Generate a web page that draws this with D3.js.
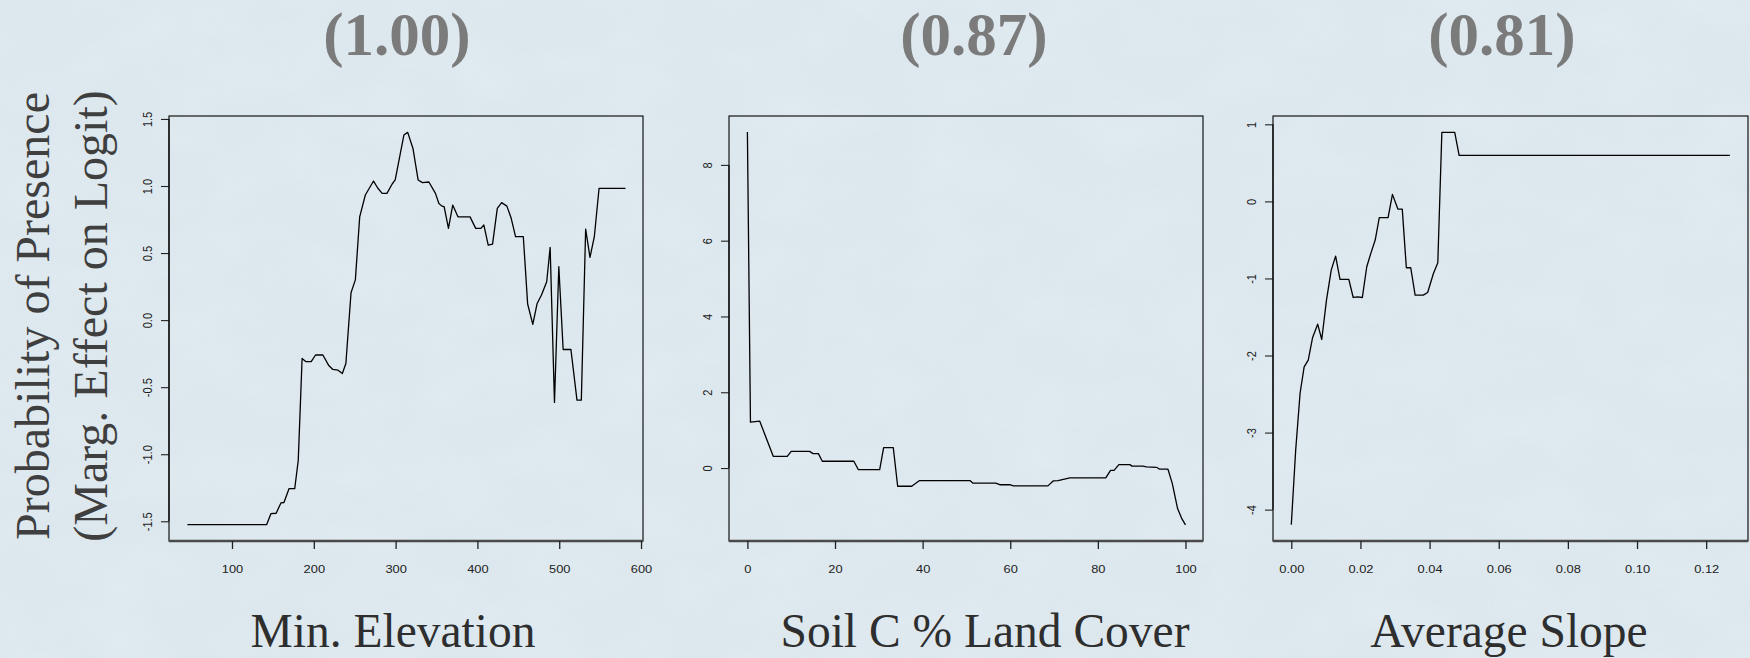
<!DOCTYPE html>
<html>
<head>
<meta charset="utf-8">
<script src="https://cdn.jsdelivr.net/npm/d3@7"></script>
<style>
  html, body { margin: 0; padding: 0; background: #dde8ee; }
  svg { display: block; }
</style>
</head>
<body>
<svg id="chart" width="1750" height="658"></svg>
<script>
// ---------- data ----------
const panelTitles = ["(1.00)", "(0.87)", "(0.81)"];
const panelXLabels = ["Min. Elevation", "Soil C % Land Cover", "Average Slope"];
const yLabelLines = ["Probability of Presence", "(Marg. Effect on Logit)"];

// Panel 1: Min. Elevation
const elevX = [45.5,142.3,147.6,154,159.8,163.5,169.8,176.7,181,185.7,190.5,196.8,202.1,211.1,218,223.3,229.6,234.9,239.2,245.5,250.8,256.1,263,273,278.3,283.6,289.4,295.8,299.5,310.1,314.8,321.2,327.5,332.8,340.7,348.7,352.9,356.6,359.3,364.6,369.8,376.2,383.1,391,397.9,404.2,407.9,413.2,418.5,424.3,429.6,436,441.3,446.6,456.1,461.4,467.7,473,478.3,484.7,488.9,494.2,499.5,504.8,514.3,521.7,527,532.3,537.6,542.9,548.7,581];
const elevY = [-1.525,-1.525,-1.443,-1.44,-1.363,-1.36,-1.256,-1.256,-1.045,-0.286,-0.31,-0.31,-0.26,-0.26,-0.336,-0.368,-0.373,-0.398,-0.323,0.204,0.3,0.77,0.933,1.037,0.983,0.945,0.945,1.015,1.045,1.38,1.40,1.28,1.045,1.025,1.03,0.945,0.87,0.85,0.846,0.684,0.858,0.77,0.77,0.77,0.684,0.684,0.709,0.56,0.567,0.833,0.876,0.85,0.759,0.622,0.622,0.12,-0.032,0.124,0.187,0.286,0.542,-0.614,0.398,-0.219,-0.219,-0.597,-0.597,0.679,0.468,0.622,0.983,0.983];

// Panel 2: Soil C % Land Cover
const soilX = [0,0.7,2.8,5.9,9.1,10.0,14.2,15,16.2,17.1,24.3,25.3,30.2,31.1,33.3,34.3,37.5,39.3,50.8,51.5,56.7,57.6,59.9,60.7,68.6,69.8,70.9,73.6,81.8,82.9,83.7,84.8,87.3,87.8,90.3,91.1,93.4,94.1,96.0,97.0,98.2,99.1,100];
const soilY = [8.87,1.21,1.24,0.31,0.31,0.44,0.44,0.38,0.38,0.18,0.18,-0.04,-0.04,0.54,0.54,-0.48,-0.48,-0.33,-0.33,-0.40,-0.40,-0.44,-0.44,-0.47,-0.47,-0.34,-0.33,-0.26,-0.26,-0.06,-0.06,0.09,0.09,0.05,0.05,0.03,0.02,-0.03,-0.03,-0.41,-1.07,-1.32,-1.5];

// Panel 3: Average Slope
const slopeX = [0,0.00127,0.00254,0.00372,0.0049,0.00617,0.00763,0.00881,0.01018,0.01155,0.01282,0.01409,0.01664,0.01791,0.01918,0.02055,0.02183,0.023,0.02427,0.02545,0.02799,0.02926,0.03083,0.0321,0.03328,0.03455,0.03582,0.03817,0.03944,0.04111,0.04238,0.04355,0.04727,0.04855,0.12685];
const slopeY = [-4.195,-3.23,-2.49,-2.147,-2.06,-1.766,-1.593,-1.792,-1.281,-0.892,-0.71,-1.013,-1.013,-1.247,-1.238,-1.247,-0.848,-0.675,-0.502,-0.212,-0.212,0.091,-0.1,-0.1,-0.861,-0.861,-1.216,-1.216,-1.182,-0.935,-0.797,0.896,0.896,0.597,0.597];

// axis limits (R style, 4% padding already included)
const elevXLim = [23.0, 602.4],   elevYLim = [-1.647, 1.522];
const soilXLim = [-4.2, 104.0],   soilYLim = [-1.925, 9.29];
const slopeXLim = [-0.00529, 0.1321], slopeYLim = [-4.407, 1.108];

// tick values / labels
const elevXTicks = [100,200,300,400,500,600];
const elevYTicks = [-1.5,-1.0,-0.5,0.0,0.5,1.0,1.5];
const soilXTicks = [0,20,40,60,80,100];
const soilYTicks = [0,2,4,6,8];
const slopeXTicks = [0,0.02,0.04,0.06,0.08,0.10,0.12];
const slopeYTicks = [-4,-3,-2,-1,0,1];

// ---------- layout ----------
const svg = d3.select("#chart");
const W = 1750, H = 658;

svg.append("rect").attr("width", W).attr("height", H).attr("fill", "#dde8ee");
// subtle texture
const defs = svg.append("defs");
const f = defs.append("filter").attr("id", "tex").attr("x", 0).attr("y", 0).attr("width", "100%").attr("height", "100%");
f.append("feTurbulence").attr("type", "fractalNoise").attr("baseFrequency", "0.012 0.02").attr("numOctaves", 3).attr("seed", 4);
f.append("feColorMatrix").attr("type", "matrix")
  .attr("values", "0 0 0 0 0.80  0 0 0 0 0.87  0 0 0 0 0.92  0 0 0 0.9 -0.35");
svg.append("rect").attr("width", W).attr("height", H).attr("filter", "url(#tex)").attr("opacity", 0.7);

const panels = [
  { x: elevX, y: elevY, xlim: elevXLim, ylim: elevYLim, xt: elevXTicks, yt: elevYTicks,
    xf: d3.format("d"), yf: d3.format(".1f"), box: [169, 643], titleX: 397, labelX: 393 },
  { x: soilX, y: soilY, xlim: soilXLim, ylim: soilYLim, xt: soilXTicks, yt: soilYTicks,
    xf: d3.format("d"), yf: d3.format("d"), box: [729, 1203], titleX: 974, labelX: 985 },
  { x: slopeX, y: slopeY, xlim: slopeXLim, ylim: slopeYLim, xt: slopeXTicks, yt: slopeYTicks,
    xf: d3.format(".2f"), yf: d3.format("d"), box: [1273, 1748], titleX: 1502, labelX: 1509 }
];
const plotTop = 116, plotBottom = 541;
const fmtMinus = s => s.replace("\u2212", "-");

panels.forEach((p, i) => {
  const xs = d3.scaleLinear().domain(p.xlim).range(p.box);
  const ys = d3.scaleLinear().domain(p.ylim).range([plotBottom, plotTop]);
  const g = svg.append("g");

  // title
  svg.append("text").attr("x", p.titleX).attr("y", 55)
    .attr("text-anchor", "middle")
    .attr("font-family", "'Liberation Serif', 'Times New Roman', serif")
    .attr("font-weight", "bold").attr("font-size", 61)
    .attr("fill", "#7b7b7b").text(panelTitles[i]);

  // x label
  svg.append("text").attr("x", p.labelX).attr("y", 647)
    .attr("text-anchor", "middle")
    .attr("font-family", "'Liberation Serif', 'Times New Roman', serif")
    .attr("font-size", 47.5).attr("fill", "#2e2e2e").text(panelXLabels[i]);

  // box
  g.append("rect").attr("x", p.box[0]).attr("y", plotTop)
    .attr("width", p.box[1] - p.box[0]).attr("height", plotBottom - plotTop)
    .attr("fill", "none").attr("stroke", "#000").attr("stroke-width", 1.1);
  g.append("line").attr("x1", p.box[0]).attr("x2", p.box[1])
    .attr("y1", plotBottom).attr("y2", plotBottom)
    .attr("stroke", "#4a4a4a").attr("stroke-width", 2.6);

  // x axis
  const xa = g.append("g").attr("transform", `translate(0,${plotBottom})`)
    .call(d3.axisBottom(xs).tickValues(p.xt).tickSize(8).tickSizeOuter(0)
      .tickFormat(d => fmtMinus(p.xf(d))));
  xa.select(".domain").remove();
  xa.selectAll(".tick line").attr("stroke", "#222").attr("stroke-width", 1.3);
  xa.selectAll(".tick text")
    .attr("y", 32.5).attr("dy", null)
    .attr("transform", "scale(1.17,1)")
    .attr("font-family", "'Liberation Sans', Arial, sans-serif")
    .attr("font-size", 11).attr("fill", "#222");

  // y axis
  const ya = g.append("g").attr("transform", `translate(${p.box[0]},0)`)
    .call(d3.axisLeft(ys).tickValues(p.yt).tickSize(8).tickSizeOuter(0)
      .tickFormat(d => fmtMinus(p.yf(d))));
  ya.select(".domain").remove();
  ya.selectAll(".tick line").attr("stroke", "#222").attr("stroke-width", 1.1);
  ya.selectAll(".tick text")
    .attr("x", null).attr("dy", null).attr("y", 0)
    .attr("text-anchor", "middle")
    .attr("transform", "translate(-17,0) scale(1.15,1) rotate(-90)")
    .attr("font-family", "'Liberation Sans', Arial, sans-serif")
    .attr("font-size", 11).attr("fill", "#222");
  ya.append("line").attr("x1", 0).attr("x2", 0)
    .attr("y1", ys(d3.min(p.yt))).attr("y2", ys(d3.max(p.yt)))
    .attr("stroke", "#000").attr("stroke-width", 1.1);

  // curve
  const pts = p.x.map((v, k) => [v, p.y[k]]);
  g.append("path").datum(pts)
    .attr("fill", "none").attr("stroke", "#000").attr("stroke-width", 1.3)
    .attr("stroke-linejoin", "round")
    .attr("d", d3.line().x(d => xs(d[0])).y(d => ys(d[1])));
});

// y label (two lines, rotated)
const yl = svg.append("text")
  .attr("transform", "translate(0,316) rotate(-90)")
  .attr("text-anchor", "middle")
  .attr("font-family", "'Liberation Serif', 'Times New Roman', serif")
  .attr("font-size", 48).attr("fill", "#3f3f3f");
yl.append("tspan").attr("x", 0).attr("y", 49).text(yLabelLines[0]);
yl.append("tspan").attr("x", 0).attr("y", 107).text(yLabelLines[1]);
</script>
</body>
</html>
